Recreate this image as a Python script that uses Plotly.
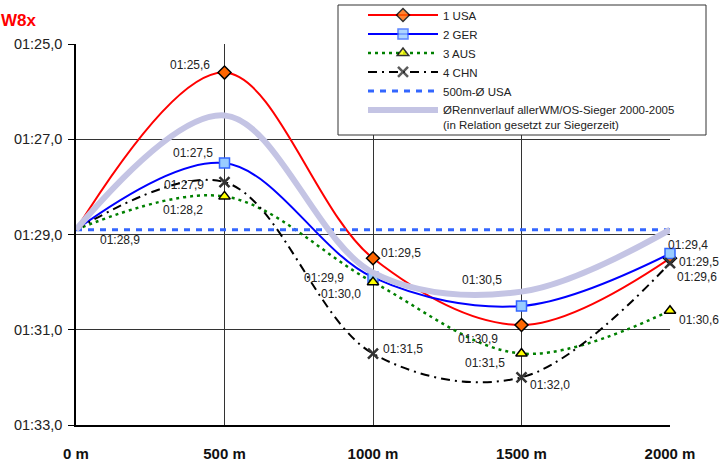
import plotly.graph_objects as go

distances = [0, 500, 1000, 1500, 2000]
x_labels = ["0 m", "500 m", "1000 m", "1500 m", "2000 m"]
usa = [88.9, 85.6, 89.5, 90.9, 89.5]
ger = [88.9, 87.5, 89.9, 90.5, 89.4]
aus = [88.9, 88.2, 90.0, 91.5, 90.6]
chn = [88.9, 87.9, 91.5, 92.0, 89.6]
usa_avg = [88.9, 88.9, 88.9, 88.9, 88.9]
winners_avg = [88.9, 86.5, 89.8, 90.2, 88.9]
y_ticks = [85, 87, 89, 91, 93]


def fmt(v):
    m = int(v // 60)
    s = v - 60 * m
    return "%02d:%02d,%d" % (m, int(s), round((s - int(s)) * 10))


FONT = "Liberation Sans, Arial, sans-serif"
W, H = 719, 463
ML, MR, MT, MB = 76, 49, 44, 38
PW, PH = W - ML - MR, H - MT - MB


def px2paper(px, py):
    return (px - ML) / PW, 1 - (py - MT) / PH


fig = go.Figure()

fig.add_trace(go.Scatter(
    x=distances, y=usa, name="1 USA", mode="lines+markers",
    line=dict(color="#FF0000", width=2, shape="spline", smoothing=1),
    marker=dict(symbol="diamond", size=10, color="#FF6600", line=dict(color="black", width=1.5),
                opacity=[0, 1, 1, 1, 1]),
    cliponaxis=False))
fig.add_trace(go.Scatter(
    x=distances, y=ger, name="2 GER", mode="lines+markers",
    line=dict(color="#0000FF", width=2, shape="spline", smoothing=1),
    marker=dict(symbol="square", size=10, color="#99CCFF", line=dict(color="#3366FF", width=1.5),
                opacity=[0, 1, 1, 1, 1]),
    cliponaxis=False))
fig.add_trace(go.Scatter(
    x=distances, y=aus, name="3 AUS", mode="lines+markers",
    line=dict(color="#008000", width=2.5, dash="3px,4px", shape="spline", smoothing=1),
    marker=dict(symbol="triangle-up", size=10, color="#FFFF00", line=dict(color="black", width=1.5),
                opacity=[0, 1, 1, 1, 1]),
    cliponaxis=False))
fig.add_trace(go.Scatter(
    x=distances, y=chn, name="4 CHN", mode="lines+markers",
    line=dict(color="#000000", width=2, dash="9px,5px,2px,5px", shape="spline", smoothing=1),
    marker=dict(symbol="x-thin", size=10, color="#333333", line=dict(color="#333333", width=2.5),
                opacity=[0, 1, 1, 1, 1]),
    cliponaxis=False))
fig.add_trace(go.Scatter(
    x=distances, y=usa_avg, name="500m-Ø USA", mode="lines",
    line=dict(color="#3366FF", width=3, dash="6px,6px"),
    cliponaxis=False))
fig.add_trace(go.Scatter(
    x=distances, y=winners_avg,
    name="ØRennverlauf allerWM/OS-Sieger 2000-2005<br>(in Relation gesetzt zur Siegerzeit)",
    mode="lines",
    line=dict(color="#C4C4E4", width=6, shape="spline", smoothing=1),
    cliponaxis=False))

# data labels: (series, index, dx, dy_up)
label_specs = [
    (usa, 1, -35, 8), (usa, 2, 28, 5), (usa, 3, -44, -14), (usa, 4, 29, -4),
    (ger, 1, -32, 10), (ger, 2, -49, -1), (ger, 3, -40, 26), (ger, 4, 18, 9),
    (aus, 1, -42, -14), (aus, 2, -32, -12), (aus, 3, -37, -9), (aus, 4, 29, -9),
    (chn, 1, -41, -3), (chn, 2, 30, 5), (chn, 3, 28, -8), (chn, 4, 27, -14),
    (usa, 0, 44, -10),
]
for series, i, dx, dy in label_specs:
    fig.add_annotation(x=distances[i], y=series[i], text=fmt(series[i]), showarrow=False,
                       xshift=dx, yshift=dy, font=dict(family=FONT, size=12, color="#222222"))

fig.add_annotation(xref="paper", yref="paper", x=0, y=1, xshift=-77, yshift=24,
                   xanchor="left", yanchor="middle", text="<b>W8x</b>", showarrow=False,
                   font=dict(family=FONT, size=17, color="#FF0000"))

# legend frame
x0, y0 = px2paper(338, 5)
x1, y1 = px2paper(706, 135)
fig.add_shape(type="rect", xref="paper", yref="paper", x0=x0, y0=y1, x1=x1, y1=y0,
              line=dict(color="#333333", width=1), fillcolor="white", layer="above")

fig.update_layout(
    width=W, height=H,
    margin=dict(l=ML, r=MR, t=MT, b=MB, autoexpand=False),
    paper_bgcolor="white", plot_bgcolor="white",
    font=dict(family=FONT, size=12, color="#222222"),
    showlegend=True,
    legend=dict(xref="container", yref="container", x=363 / W, y=1 - 1 / H,
                xanchor="left", yanchor="top",
                bgcolor="rgba(0,0,0,0)", borderwidth=0,
                font=dict(family=FONT, size=11.5, color="#222222"),
                itemwidth=70, valign="top", tracegroupgap=0),
)
fig.update_xaxes(range=[0, 2000], tickvals=distances,
                 ticktext=["<b>%s</b>" % t for t in x_labels],
                 showgrid=True, gridcolor="#333333", gridwidth=1,
                 showline=True, linecolor="black", linewidth=1.5, mirror=False,
                 zeroline=False, ticks="", ticklabelstandoff=14, automargin=False,
                 tickfont=dict(family=FONT, size=15, color="#111111"))
fig.update_yaxes(range=[93, 85], tickvals=y_ticks, ticktext=[fmt(v) for v in y_ticks],
                 showgrid=True, gridcolor="#333333", gridwidth=1,
                 showline=True, linecolor="black", linewidth=1.5,
                 zeroline=False, ticks="outside", ticklen=6, tickcolor="black",
                 ticklabelstandoff=3, automargin=False,
                 tickfont=dict(family=FONT, size=14.5, color="#222222"))

fig.write_html("out.html", config={"displayModeBar": False},
               post_script="document.body.style.margin='0';document.body.style.overflow='hidden';")
